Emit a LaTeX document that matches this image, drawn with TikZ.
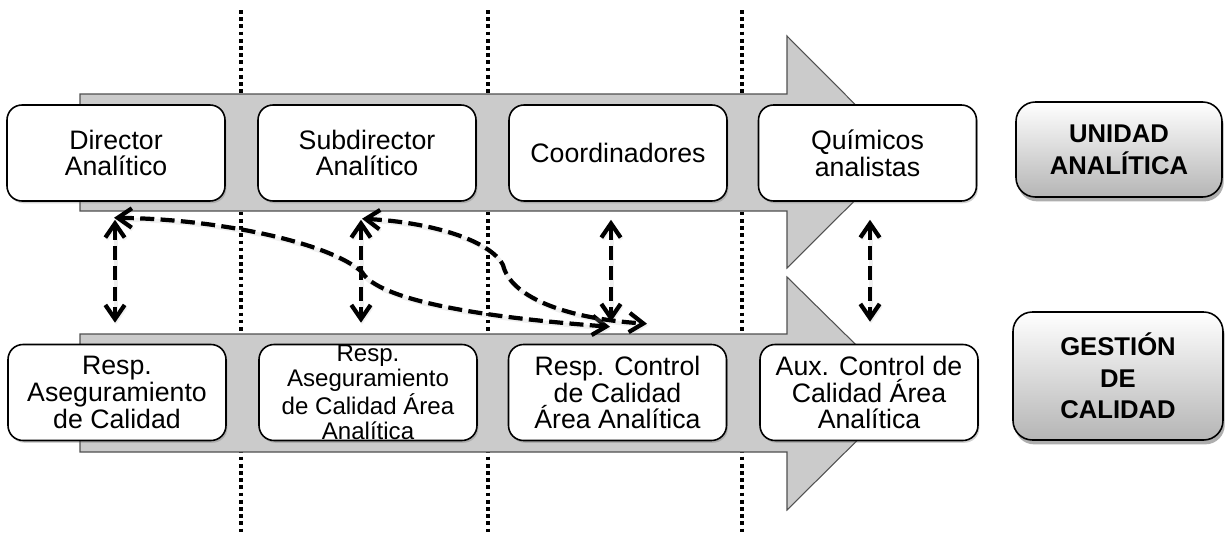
\documentclass[tikz,border=0pt]{standalone}
\usepackage{fontspec}
\setmainfont{Liberation Sans}
\usetikzlibrary{arrows.meta,calc,shadows}
\definecolor{flowgray}{HTML}{CBCBCB}
\definecolor{flowedge}{HTML}{505050}
\tikzset{
  barb/.tip={Straight Barb[length=8pt,width=11pt]},
}
\begin{document}
\begin{tikzpicture}[x=0.02cm,y=-0.02cm,
  flow/.style={fill=flowgray,draw=flowedge,line width=0.6pt,line join=miter},
  divider/.style={draw=black,line width=2.1pt,dash pattern=on 2.1pt off 2pt},
  unit/.style={draw=black,line width=0.9pt,fill=white,rounded corners=8.5pt,
    minimum width=4.36cm,minimum height=1.92cm,inner sep=0pt,align=center,
    font=\fontsize{15.2}{15.3}\selectfont,
    drop shadow={shadow xshift=0.8pt,shadow yshift=-1.3pt,opacity=0.3,fill=black!60}},
  unittext/.style={inner sep=0pt,align=center,font=\fontsize{13.7}{14.3}\selectfont},
  area/.style={draw=black,line width=0.9pt,rounded corners=11pt,inner sep=0pt,
    top color=white,bottom color=black!29,align=center,
    font=\fontsize{14.6}{18}\selectfont\bfseries,
    drop shadow={shadow xshift=1pt,shadow yshift=-2.5pt,opacity=0.45,fill=black!70}},
  conn/.style={draw=black,line width=2.4pt,dash pattern=on 8pt off 3.6pt,arrows={barb-barb},
    preaction={draw=black!30,opacity=0.2,line width=2.4pt,arrows={barb-barb},
      transform canvas={shift={(0.6pt,-1pt)}}}}
]
\useasboundingbox (0,0) rectangle (1225,534);

% dotted phase separators
\foreach \x/\n in {241/l,488/m,742/r}{
  \coordinate (sep\n top) at (\x,10);
  \coordinate (sep\n bot) at (\x,532);
  \draw[divider] (sep\n top) -- (sep\n bot);
}

% the two process arrows
\draw[flow] (80,94) -- (787,94) -- (787,36) -- (903,152.5) -- (787,268) -- (787,211) -- (80,211) -- cycle;
\draw[flow] (80,334) -- (787,334) -- (787,277) -- (905,393) -- (787,510) -- (787,452) -- (80,452) -- cycle;

% analytical unit roles
\node[unit] (a1) at (116,153)   {Director\\Analítico};
\node[unit] (a2) at (367,153)   {Subdirector\\Analítico};
\node[unit] (a3) at (618,153)   {Coordinadores};
\node[unit] (a4) at (867.5,153) {Químicos\\analistas};

% quality management roles
\node[unit] (b1) at (117,392.5) {Resp.\\Aseguramiento\\de Calidad};
\node[unit] (b2) at (368,392.5) {};
\node[unittext] (b2t) at (b2.center) {Resp.\\Aseguramiento\\de Calidad Área\\Analítica};
\node[unit] (b3) at (617.5,392.5) {Resp. Control\\de Calidad\\Área Analítica};
\node[unit] (b4) at (869,392.5) {Aux. Control de\\Calidad Área\\Analítica};

% area labels
\node[area,minimum width=4.12cm,minimum height=1.9cm] (ua) at (1119,149.5) {UNIDAD\\ANALÍTICA};
\node[area,minimum width=4.2cm,minimum height=2.56cm] (gc) at (1118,376) {GESTIÓN\\DE\\CALIDAD};

% links between counterparts and towards quality control
\draw[conn] ($(a1.south)+(-1,18)$)   -- ($(b1.north)+(-2,-21)$);
\draw[conn] ($(a2.south)+(-6,18)$)   -- ($(b2.north)+(-7,-21)$);
\draw[conn] ($(a3.south)+(-7,18)$)   -- ($(b3.north)+(-6.5,-22)$);
\draw[conn] ($(a4.south)+(2.5,18)$)  -- ($(b4.north)+(1,-22)$);

\draw[conn] ($(a1.south)+(-2,16)$) .. controls (220,219) and (330,243) .. (362,272)
            .. controls (375,295) and (450,315) .. ($(b3.north)+(-7.5,-17)$);
\draw[conn] ($(a2.south)+(-5,17)$) .. controls (430,222) and (490,240) .. (503,265)
            .. controls (510,295) and (560,318) .. ($(b3.north)+(29.5,-20)$);
\end{tikzpicture}
\end{document}
